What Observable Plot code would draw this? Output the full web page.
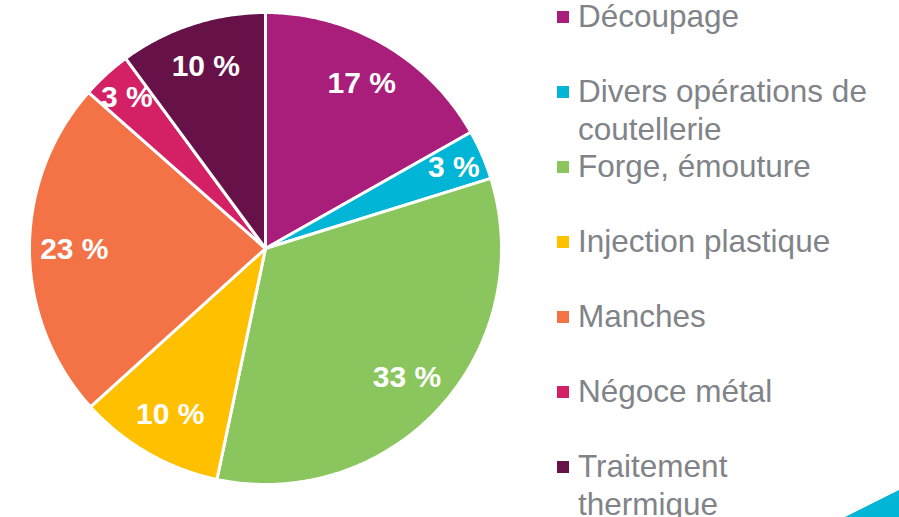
<!DOCTYPE html>
<html>
<head>
<meta charset="utf-8">
<script src="https://cdn.jsdelivr.net/npm/d3@7"></script>
<script src="https://cdn.jsdelivr.net/npm/@observablehq/plot@0.6"></script>
<style>
  html, body { margin: 0; padding: 0; background: #fff; }
  #wrap { position: relative; width: 899px; height: 517px; overflow: hidden; font-family: "Liberation Sans", Arial, sans-serif; }
  #chart { position: absolute; left: 0; top: 0; }
  #legend { position: absolute; left: 557px; top: -3px; }
  .item { position: relative; height: 75px; }
  .sw { position: absolute; left: 0; top: 14px; width: 12px; height: 12px; }
  .lab { position: absolute; left: 21px; top: 0; width: 294px; font-size: 31.5px; line-height: 38px; color: #808488; }
  #corner { position: absolute; right: 0; bottom: 0; width: 0; height: 0; border-style: solid; border-width: 0 0 27px 54px; border-color: transparent transparent #00B5D6 transparent; }
</style>
</head>
<body>
<div id="wrap">
  <div id="chart"></div>
  <div id="legend"></div>
  <div id="corner"></div>
</div>
<script>
const categories = ["Découpage", "Divers opérations de coutellerie", "Forge, émouture", "Injection plastique", "Manches", "Négoce métal", "Traitement thermique"];
const values = [16.8, 3.4, 33.1, 10.0, 23.2, 3.4, 10.1];
const colors = ["#A91E7B", "#00B5D6", "#8AC55E", "#FFC000", "#F37246", "#D42165", "#661248"];

const arcs = d3.pie().sort(null).value(d => d)(values);
const total = d3.sum(values);

// polygon vertices for each slice, on a unit circle (angle 0 at 12 o'clock, clockwise)
const slicePts = [];
arcs.forEach((a, i) => {
  const n = Math.max(2, Math.ceil((a.endAngle - a.startAngle) / 0.01));
  slicePts.push({cat: categories[i], x: 0, y: 0});
  for (let k = 0; k <= n; k++) {
    const t = a.startAngle + (a.endAngle - a.startAngle) * k / n;
    slicePts.push({cat: categories[i], x: Math.sin(t), y: Math.cos(t)});
  }
});

const labels = arcs.map((a, i) => {
  const m = (a.startAngle + a.endAngle) / 2;
  const r = values[i] < 5 ? 0.87 : 0.81;
  return {cat: categories[i], x: r * Math.sin(m), y: r * Math.cos(m), text: Math.round(values[i] / total * 100) + " %"};
});

const plot = Plot.plot({
  width: 899,
  height: 517,
  margin: 0,
  x: {domain: [-1, 1], range: [29, 501], axis: null},
  y: {domain: [-1, 1], range: [484, 12], axis: null},
  color: {domain: categories, range: colors},
  style: {fontFamily: "'Liberation Sans', Arial, sans-serif", background: "transparent"},
  marks: [
    Plot.line(slicePts, {x: "x", y: "y", z: "cat", fill: "cat", stroke: "white", strokeWidth: 3, strokeLinejoin: "round", curve: "linear-closed"}),
    Plot.text(labels, {x: "x", y: "y", text: "text", fill: "white", fontSize: 30, fontWeight: "bold"})
  ]
});
document.getElementById("chart").appendChild(plot);

const legend = document.getElementById("legend");
categories.forEach((c, i) => {
  const item = document.createElement("div");
  item.className = "item";
  const sw = document.createElement("div");
  sw.className = "sw";
  sw.style.background = colors[i];
  const lab = document.createElement("div");
  lab.className = "lab";
  lab.textContent = c;
  item.appendChild(sw);
  item.appendChild(lab);
  legend.appendChild(item);
});
</script>
</body>
</html>
